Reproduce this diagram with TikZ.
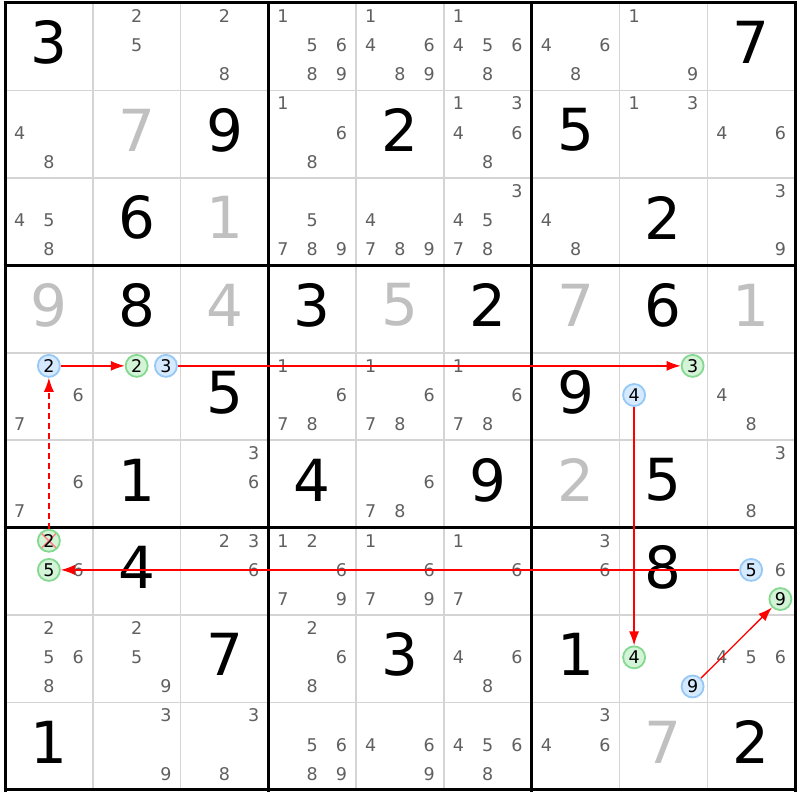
\documentclass[tikz,border=0pt]{standalone}
\usepackage{fontspec}
\setmainfont{DejaVu Sans}
\usetikzlibrary{arrows.meta}
\definecolor{candgray}{HTML}{606060}
\definecolor{solvedgray}{HTML}{C0C0C0}
\definecolor{thingray}{HTML}{D4D4D4}
\definecolor{bluefill}{HTML}{D6EAFF}
\definecolor{bluedraw}{HTML}{96C8F5}
\definecolor{greenfill}{HTML}{D4F4D8}
\definecolor{greendraw}{HTML}{84D890}
\newcommand\hc[5]{%
  \pgfmathsetmacro\hx{5+87.78*(#4-1)+14.63+29.26*mod(#5-1,3)}%
  \pgfmathsetmacro\hy{3+87.44*(#3-1)+13.1+29.15*floor((#5-1)/3)}%
  \node[#1] (#2) at (\hx,\hy) {#5};}
\newcommand\cands[3]{\foreach \d in {#3}{\hc{cand}{k#1#2\d}{#1}{#2}{\d}}}
\newcommand\giv[4]{%
  \pgfmathsetmacro\hx{5+87.78*(#3-0.5)}%
  \pgfmathsetmacro\hy{3+87.44*(#2-0.5)-4}%
  \node[#1] (v#2#3) at (\hx,\hy) {#4};}
\begin{document}
\begin{tikzpicture}[x=1pt,y=-1pt,
  cand/.style={inner sep=0pt,text=candgray,font=\fontsize{17.5}{17.5}\selectfont},
  given/.style={inner sep=0pt,text=black,font=\fontsize{58}{58}\selectfont},
  solved/.style={inner sep=0pt,text=solvedgray,font=\fontsize{58}{58}\selectfont},
  bluec/.style={circle,minimum size=22pt,inner sep=0pt,line width=1.8pt,draw=bluedraw,fill=bluefill,text=black,font=\fontsize{17.5}{17.5}\selectfont},
  greenc/.style={bluec,draw=greendraw,fill=greenfill},
  greenx/.style={greenc,path picture={\draw[red!50,line width=1.4pt]
     ([shift={(-7.5pt,-7.5pt)}]path picture bounding box.center) -- ([shift={(7.5pt,7.5pt)}]path picture bounding box.center)
     ([shift={(-7.5pt,7.5pt)}]path picture bounding box.center) -- ([shift={(7.5pt,-7.5pt)}]path picture bounding box.center);}},
  thinline/.style={draw=thingray,line width=1.5pt},
  thickline/.style={draw=black,line width=3pt},
  arr/.style={draw=red,line width=1.3pt,-{Latex[length=14pt,width=10pt]}},
  darr/.style={arr,dash pattern=on 6pt off 4pt}]
\useasboundingbox (0,0) rectangle (800,800);
\fill[white] (0,0) rectangle (800,800);
% grid
\foreach \i in {1,2,4,5,7,8}{
  \draw[thinline] ({5+87.78*\i},3) -- ({5+87.78*\i},790);
  \draw[thinline] (5,{3+87.44*\i}) -- (795,{3+87.44*\i});
}
\foreach \i in {0,3,6,9}{
  \draw[thickline] ({5+87.78*\i},1.5) -- ({5+87.78*\i},791.5);
  \draw[thickline] (3.5,{3+87.44*\i}) -- (796.5,{3+87.44*\i});
}
% row 1
\giv{given}{1}{1}{3}
\cands{1}{2}{2,5}
\cands{1}{3}{2,8}
\cands{1}{4}{1,5,6,8,9}
\cands{1}{5}{1,4,6,8,9}
\cands{1}{6}{1,4,5,6,8}
\cands{1}{7}{4,6,8}
\cands{1}{8}{1,9}
\giv{given}{1}{9}{7}
% row 2
\cands{2}{1}{4,8}
\giv{solved}{2}{2}{7}
\giv{given}{2}{3}{9}
\cands{2}{4}{1,6,8}
\giv{given}{2}{5}{2}
\cands{2}{6}{1,3,4,6,8}
\giv{given}{2}{7}{5}
\cands{2}{8}{1,3}
\cands{2}{9}{4,6}
% row 3
\cands{3}{1}{4,5,8}
\giv{given}{3}{2}{6}
\giv{solved}{3}{3}{1}
\cands{3}{4}{5,7,8,9}
\cands{3}{5}{4,7,8,9}
\cands{3}{6}{3,4,5,7,8}
\cands{3}{7}{4,8}
\giv{given}{3}{8}{2}
\cands{3}{9}{3,9}
% row 4
\giv{solved}{4}{1}{9}
\giv{given}{4}{2}{8}
\giv{solved}{4}{3}{4}
\giv{given}{4}{4}{3}
\giv{solved}{4}{5}{5}
\giv{given}{4}{6}{2}
\giv{solved}{4}{7}{7}
\giv{given}{4}{8}{6}
\giv{solved}{4}{9}{1}
% row 5
\cands{5}{1}{6,7}
\giv{given}{5}{3}{5}
\cands{5}{4}{1,6,7,8}
\cands{5}{5}{1,6,7,8}
\cands{5}{6}{1,6,7,8}
\giv{given}{5}{7}{9}
\cands{5}{9}{4,8}
% row 6
\cands{6}{1}{6,7}
\giv{given}{6}{2}{1}
\cands{6}{3}{3,6}
\giv{given}{6}{4}{4}
\cands{6}{5}{6,7,8}
\giv{given}{6}{6}{9}
\giv{solved}{6}{7}{2}
\giv{given}{6}{8}{5}
\cands{6}{9}{3,8}
% row 7
\cands{7}{1}{6}
\giv{given}{7}{2}{4}
\cands{7}{3}{2,3,6}
\cands{7}{4}{1,2,6,7,9}
\cands{7}{5}{1,6,7,9}
\cands{7}{6}{1,6,7}
\cands{7}{7}{3,6}
\giv{given}{7}{8}{8}
\cands{7}{9}{6}
% row 8
\cands{8}{1}{2,5,6,8}
\cands{8}{2}{2,5,9}
\giv{given}{8}{3}{7}
\cands{8}{4}{2,6,8}
\giv{given}{8}{5}{3}
\cands{8}{6}{4,6,8}
\giv{given}{8}{7}{1}
\cands{8}{9}{4,5,6}
% row 9
\giv{given}{9}{1}{1}
\cands{9}{2}{3,9}
\cands{9}{3}{3,8}
\cands{9}{4}{5,6,8,9}
\cands{9}{5}{4,6,9}
\cands{9}{6}{4,5,6,8}
\cands{9}{7}{3,4,6}
\giv{solved}{9}{8}{7}
\giv{given}{9}{9}{2}
% highlighted candidates
\hc{bluec}{b512}{5}{1}{2}
\hc{greenc}{e522}{5}{2}{2}
\hc{bluec}{b523}{5}{2}{3}
\hc{greenc}{e583}{5}{8}{3}
\hc{bluec}{b584}{5}{8}{4}
\hc{greenx}{e712}{7}{1}{2}
\hc{greenc}{e715}{7}{1}{5}
\hc{bluec}{b795}{7}{9}{5}
\hc{greenc}{e799}{7}{9}{9}
\hc{greenc}{e884}{8}{8}{4}
\hc{bluec}{b889}{8}{8}{9}
% chain
\draw[arr] (b512) -- (e522);
\draw[arr] (b523) -- (e583);
\draw[arr] (b584) -- (e884);
\draw[arr] (b889) -- (e799);
\draw[arr] (b795) -- (e715);
\draw[darr] (e712) -- (b512);
\end{tikzpicture}
\end{document}
